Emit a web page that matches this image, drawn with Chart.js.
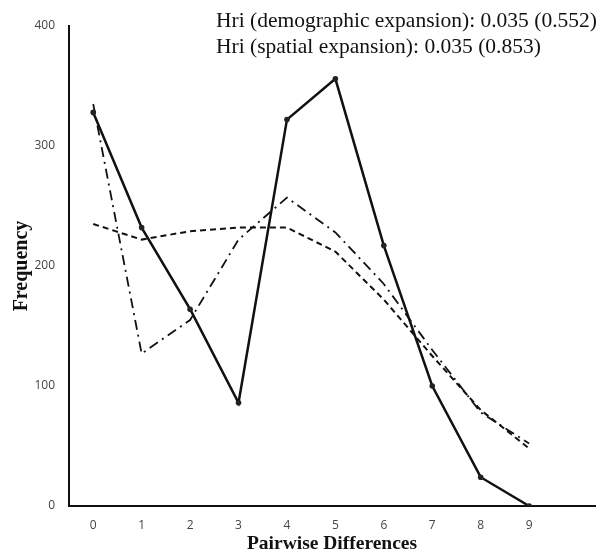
<!DOCTYPE html>
<html><head><meta charset="utf-8">
<script src="https://cdn.jsdelivr.net/npm/chart.js@4.4.0/dist/chart.umd.min.js"></script>
<style>html,body{margin:0;padding:0;background:#fff}#wrap{position:relative;width:603px;height:554px}</style>
</head><body><div id="wrap"><canvas id="c" width="603" height="554"></canvas></div>
<script>
const pairwiseDiffs = [0,1,2,3,4,5,6,7,8,9];
const observed = [328,232,164,86,322,356,217,100,24,0];
const demographic = [235,222,229,232,232,212,172,125,80,48];
const spatial = [335,127,155,222,257,228,185,130,78,52];
const yTicks = [0,100,200,300,400];
const annotations = ["Hri (demographic expansion): 0.035 (0.552)","Hri (spatial expansion): 0.035 (0.853)"];

const toXY = arr => arr.map((v,i)=>({x:pairwiseDiffs[i], y:v}));

const annot = {
  id:'annot',
  afterDraw(chart){
    const ctx = chart.ctx;
    ctx.save();
    ctx.fillStyle='#111';
    ctx.font='21.5px "Liberation Serif", "DejaVu Serif", serif';
    ctx.textBaseline='alphabetic';
    ctx.textAlign='left';
    ctx.fillText(annotations[0],216,27);
    ctx.fillText(annotations[1],216,53);
    ctx.restore();
  }
};

new Chart(document.getElementById('c'),{
  type:'line',
  data:{datasets:[
    {label:'Observed',data:toXY(observed),borderColor:'#111',backgroundColor:'#111',borderWidth:2.5,pointRadius:2.8,pointBackgroundColor:'#222',pointBorderWidth:0,tension:0},
    {label:'Demographic expansion',data:toXY(demographic),borderColor:'#111',borderWidth:2,borderDash:[6,4],pointRadius:0,tension:0},
    {label:'Spatial expansion',data:toXY(spatial),borderColor:'#111',borderWidth:1.8,borderDash:[10,5,2,5],pointRadius:0,tension:0}
  ]},
  options:{
    responsive:false,animation:false,
    layout:{padding:{left:0,right:8,top:26,bottom:0}},
    plugins:{legend:{display:false},tooltip:{enabled:false}},
    scales:{
      x:{type:'linear',min:-0.5,max:10.36,
        afterBuildTicks(s){s.ticks=pairwiseDiffs.map(v=>({value:v}));},
        grid:{display:false},
        border:{display:true,color:'#111',width:2},
        ticks:{color:'#444',font:{family:'"Open Sans", "Liberation Sans", sans-serif',size:12},padding:4,maxRotation:0,autoSkip:false},
        title:{display:true,text:'Pairwise Differences',color:'#111',font:{family:'"Liberation Serif", serif',size:19.5,weight:'bold',lineHeight:1},padding:{top:0,bottom:0}},
        afterFit(s){s.height=48;}
      },
      y:{min:0,max:400,
        afterBuildTicks(s){s.ticks=yTicks.map(v=>({value:v}));},
        grid:{display:false},
        border:{display:true,color:'#111',width:2},
        ticks:{color:'#444',font:{family:'"Open Sans", "Liberation Sans", sans-serif',size:12},padding:6},
        title:{display:true,text:'Frequency',color:'#111',font:{family:'"Liberation Serif", serif',size:20,weight:'bold'},padding:{top:10,bottom:0}},
        afterFit(s){s.width=69;}
      }
    }
  },
  plugins:[annot]
});
</script></body></html>
